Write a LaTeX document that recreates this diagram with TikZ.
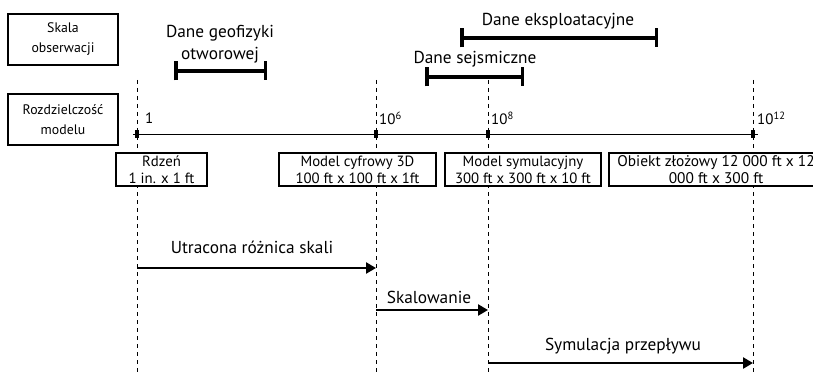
\documentclass[tikz,border=0pt]{standalone}
\usepackage{fontspec}
\setmainfont{PT Sans}
\usetikzlibrary{arrows.meta}
\tikzset{
  x=1pt, y=-1pt,
  lbox/.style={draw, line width=2pt, fill=white, align=center, inner sep=0pt, font=\fontsize{13.8}{20}\selectfont},
  mbox/.style={draw, line width=2pt, fill=white, align=center, inner sep=0pt, font=\fontsize{14.8}{17}\selectfont},
  txt/.style={inner sep=0pt, font=\fontsize{17.3}{21.5}\selectfont, align=center},
  axtxt/.style={inner sep=0pt, font=\fontsize{15}{17}\selectfont},
  guide/.style={line width=1pt, dash pattern=on 4pt off 4pt},
  rangebar/.style={line width=3.5pt, {Bar[width=19pt,line width=3.5pt]}-{Bar[width=19pt,line width=3.5pt]}},
  flow/.style={line width=2.5pt, -{Triangle[length=10pt,width=11pt]}},
  tickmark/.style={fill=black, minimum width=4pt, minimum height=8pt, inner sep=0pt}
}
\begin{document}
\begin{tikzpicture}
\useasboundingbox (0,0) rectangle (813,377);
\begin{scope}
\clip (0,0) rectangle (813,377);
% guide lines
\foreach \n/\x in {1/137, 2/376, 3/488, 4/753} {
  \coordinate (t\n) at (\x,80);
  \coordinate (b\n) at (\x,373);
  \draw[guide] (t\n) -- (b\n);
}
% axis
\coordinate (ax0) at (133,134);
\coordinate (ax1) at (758,134);
\draw[line width=1pt] (ax0) -- (ax1);
\foreach \n/\x in {1/137, 2/376, 3/488, 4/753} {
  \node[tickmark] (tk\n) at (\x,134) {};
}
\node[axtxt, anchor=west] (l1) at (145,118) {1};
\node[axtxt, anchor=west] (l2) at (379,118) {10\textsuperscript{6}};
\node[axtxt, anchor=west] (l3) at (491,118) {10\textsuperscript{8}};
\node[axtxt, anchor=west] (l4) at (757,118) {10\textsuperscript{12}};
% left label boxes
\node[lbox, minimum width=110pt, minimum height=51pt] (skala) at (63,39.5) {Skala\\obserwacji};
\node[lbox, minimum width=110pt, minimum height=51pt] (rozdz) at (63,119.5) {Rozdzielczość\\modelu};
% range bars
\coordinate (g0) at (174,71); \coordinate (g1) at (267,71);
\draw[rangebar] (g0) -- (g1);
\node[txt] (gl) at (220,44) {Dane geofizyki\\otworowej};
\coordinate (e0) at (460,38); \coordinate (e1) at (658,38);
\draw[rangebar] (e0) -- (e1);
\node[txt] (el) at (558,21) {Dane eksploatacyjne};
\coordinate (s0) at (425,77); \coordinate (s1) at (524,77);
\draw[rangebar] (s0) -- (s1);
\node[txt] (sl) at (475,59) {Dane sejsmiczne};
% model boxes
\node[mbox, minimum width=91pt, minimum height=33pt] (rdzen) at (161.5,169.5) {Rdzeń\\1 in. x 1 ft};
\node[mbox, minimum width=157pt, minimum height=33pt] (cyfr) at (357.5,169.5) {Model cyfrowy 3D\\100 ft x 100 ft x 1ft};
\node[mbox, minimum width=156pt, minimum height=33pt] (symu) at (523,169.5) {Model symulacyjny\\300 ft x 300 ft x 10 ft};
\node[mbox, minimum width=214pt, minimum height=33pt, font=\fontsize{15.4}{17}\selectfont] (obj) at (716,169.5) {Obiekt złożowy 12 000 ft x 12\\000 ft x 300 ft};
% flow arrows
\coordinate (u0) at (137,268); \coordinate (u1) at (376,268);
\draw[flow] (u0) -- (u1);
\node[txt] (ul) at (252,247) {Utracona różnica skali};
\coordinate (k0) at (376,310); \coordinate (k1) at (488,310);
\draw[flow] (k0) -- (k1);
\node[txt] (kl) at (429,297) {Skalowanie};
\coordinate (p0) at (488,363); \coordinate (p1) at (753,363);
\draw[flow] (p0) -- (p1);
\node[txt] (pl) at (623,346) {Symulacja przepływu};
\end{scope}
\end{tikzpicture}
\end{document}
